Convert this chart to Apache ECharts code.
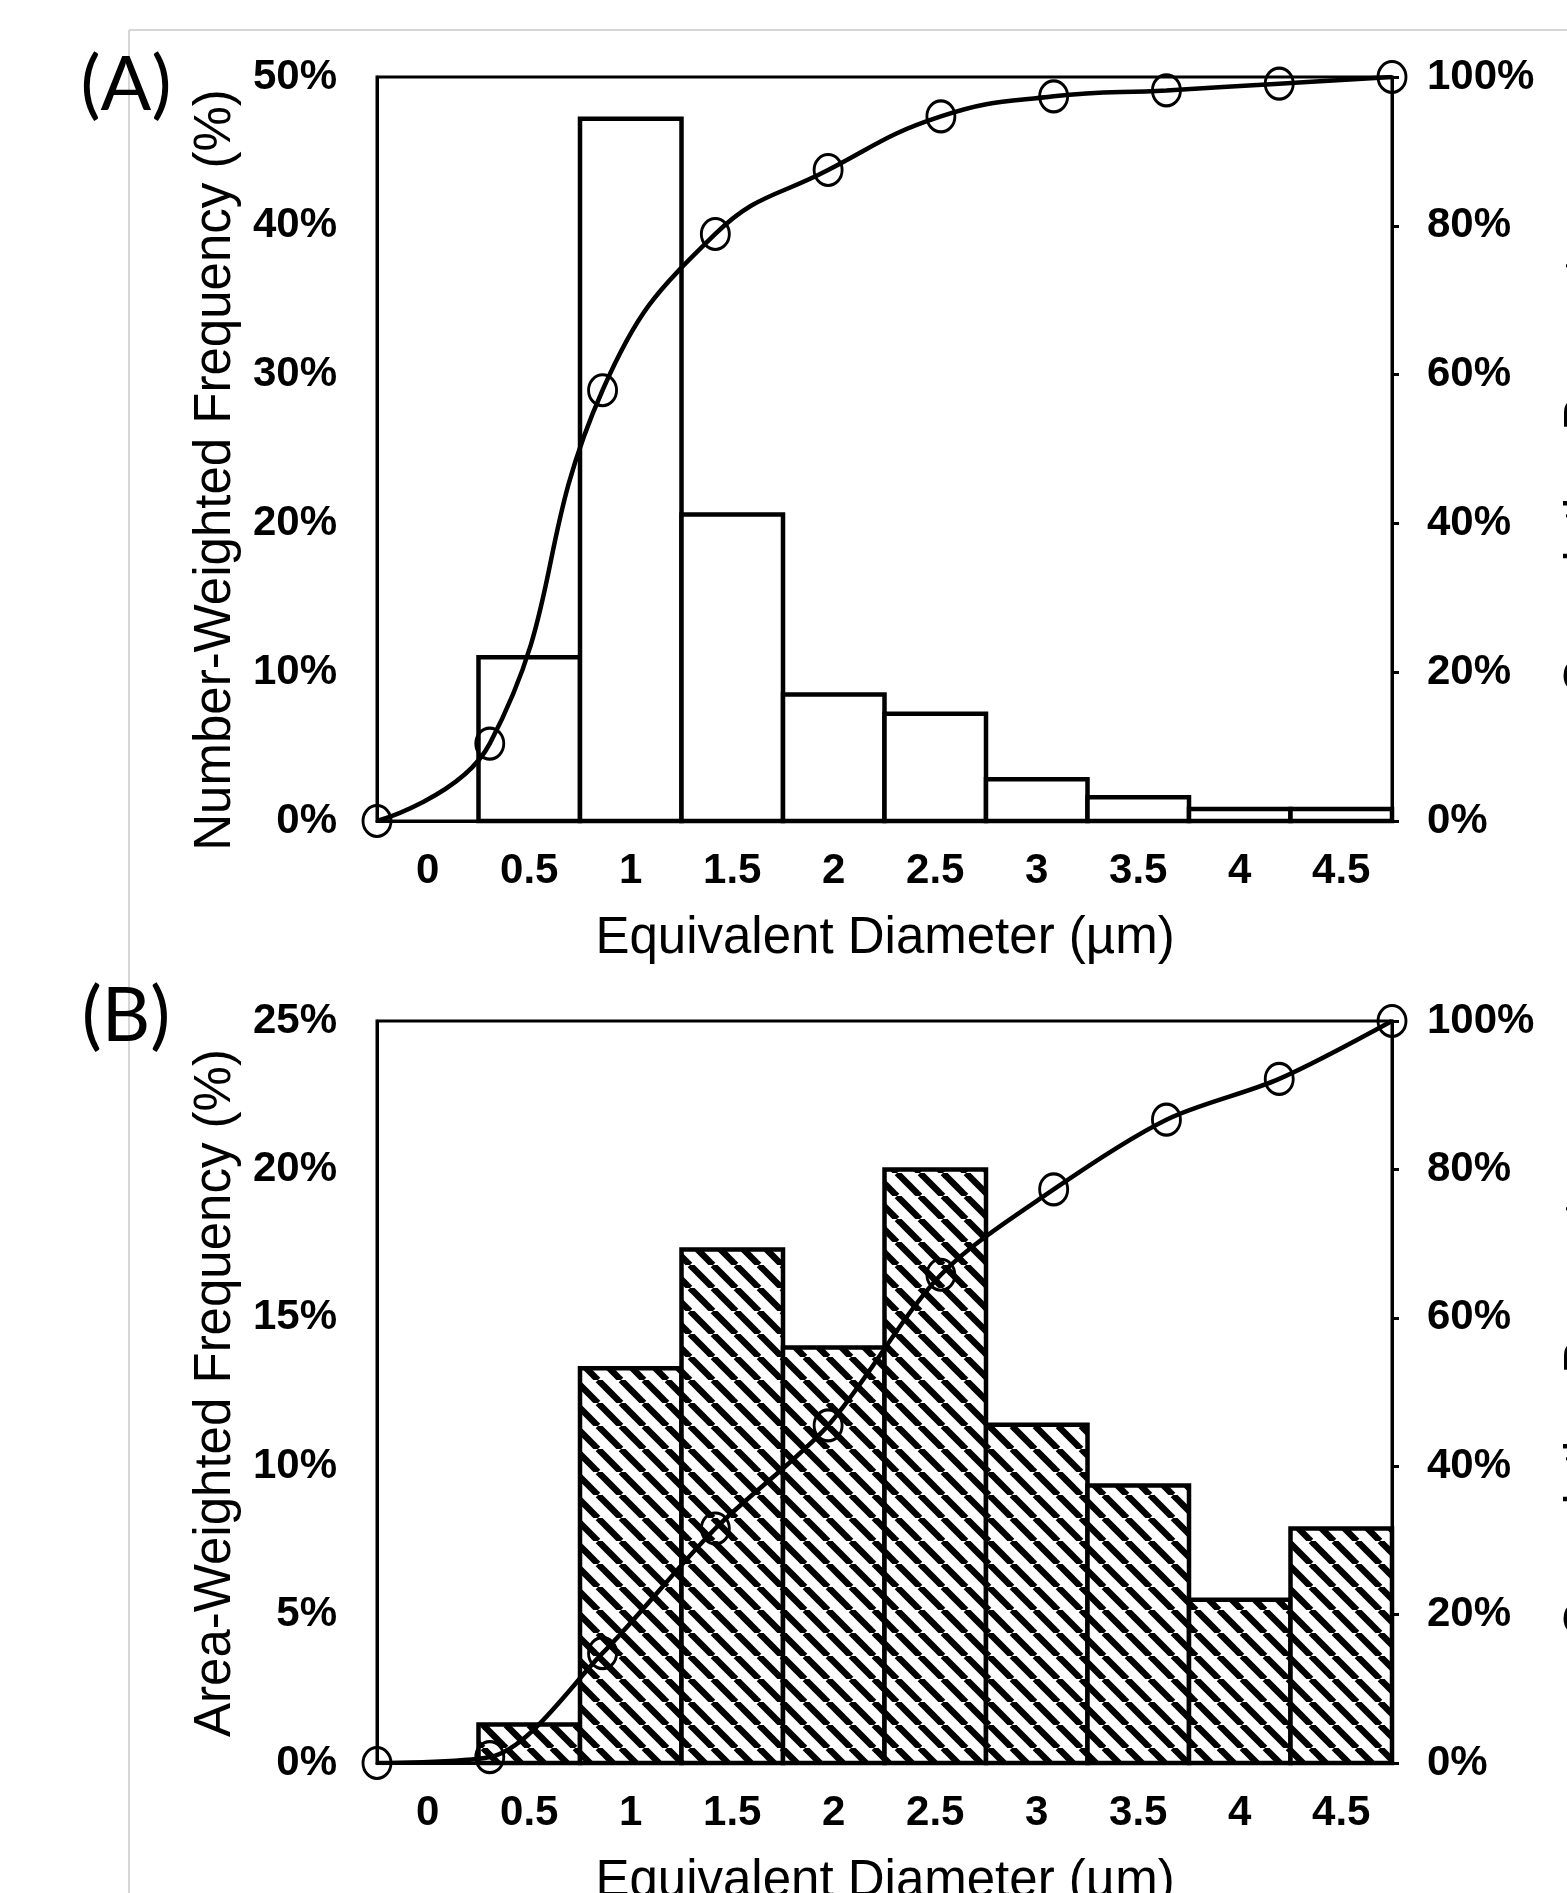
<!DOCTYPE html>
<html>
<head>
<meta charset="utf-8">
<script src="https://cdn.jsdelivr.net/npm/echarts@6/dist/echarts.min.js"></script>
<style>
html,body{margin:0;padding:0;background:#fff;overflow:hidden}
#c{width:1567px;height:1893px}
</style>
</head>
<body>
<div id="c"></div>
<script>
// ---------- data ----------
const categories   = ['0', '0.5', '1', '1.5', '2', '2.5', '3', '3.5', '4', '4.5'];
const cumPositions = ['e0', 'e1', 'e2', 'e3', 'e4', 'e5', 'e6', 'e7', 'e8', 'e9'];
const numberFreq   = [0, 11.0, 47.2, 20.6, 8.5, 7.2, 2.8, 1.6, 0.8, 0.8];
const numberCum    = [0, 10.4, 57.9, 78.9, 87.5, 94.7, 97.4, 98.2, 99.1, 100];
const areaFreq     = [0, 1.3, 13.3, 17.3, 14.0, 20.0, 11.4, 9.35, 5.5, 7.9];
const areaCum      = [0, 0.8, 14.8, 31.6, 45.5, 65.8, 77.3, 86.7, 92.2, 100];
const freqAxisA    = [0, 50, 10];   // min, max, interval
const freqAxisB    = [0, 25, 5];
const cumAxis      = [0, 100, 20];
const panelLabels  = ['(A)', '(B)'];
const yTitles      = ['Number-Weighted Frequency (%)', 'Area-Weighted Frequency (%)'];
const xTitle       = 'Equivalent Diameter (µm)';
const rightTitle   = 'Cumulative Percentage';

// ---------- styles ----------
const FONT = "'Liberation Sans', Arial, sans-serif";
const BLACK = '#000';

function hatchCanvas() {
  const s = 23;
  const c = document.createElement('canvas');
  c.width = s; c.height = s;
  const g = c.getContext('2d');
  g.fillStyle = '#fff'; g.fillRect(0, 0, s, s);
  g.strokeStyle = '#000'; g.lineWidth = 6.5;
  for (const o of [-s, 0, s]) {
    g.beginPath(); g.moveTo(o, 0); g.lineTo(o + s, s); g.stroke();
  }
  return c;
}

const grids = [
  { left: 377, top: 77, width: 1015, height: 744 },
  { left: 377, top: 1021, width: 1015, height: 742 }
];

const axisLabelStyle = { color: BLACK, fontSize: 42, fontWeight: 'bold', fontFamily: FONT };

function xAxes(gi) {
  return [
    { gridIndex: gi, type: 'category', data: categories, boundaryGap: true, position: 'bottom',
      axisLine: { show: true, lineStyle: { color: BLACK, width: 3 } },
      axisTick: { show: false },
      axisLabel: Object.assign({ interval: 0, margin: 29 }, axisLabelStyle),
      splitLine: { show: false } },
    { gridIndex: gi, type: 'category', data: cumPositions, boundaryGap: false, show: false }
  ];
}
function yAxes(gi, f) {
  return [
    { gridIndex: gi, type: 'value', position: 'left', min: f[0], max: f[1], interval: f[2],
      axisLine: { show: true, lineStyle: { color: BLACK, width: 3 } },
      axisTick: { show: false },
      axisLabel: Object.assign({ formatter: '{value}%', margin: 40 }, axisLabelStyle),
      splitLine: { show: false } },
    { gridIndex: gi, type: 'value', position: 'right', min: cumAxis[0], max: cumAxis[1], interval: cumAxis[2],
      axisLine: { show: true, lineStyle: { color: BLACK, width: 3 } },
      axisTick: { show: true, inside: false, length: 7, lineStyle: { color: BLACK, width: 3 } },
      axisLabel: Object.assign({ formatter: '{value}%', margin: 35 }, axisLabelStyle),
      splitLine: { show: false } }
  ];
}

// histogram bars: adjacent rectangles sharing edges, drawn through the axis scales
function histSeries(values, xi, yi, fill) {
  return {
    type: 'custom', xAxisIndex: xi, yAxisIndex: yi, z: 2,
    data: values.map((v, i) => [i, v]),
    encode: { x: 0, y: 1 },
    renderItem: function (params, api) {
      const i = api.value(0), v = api.value(1);
      if (!v) return null;
      const p0 = api.coord([i, 0]);
      const p1 = api.coord([i, v]);
      const w = api.size([1, 0])[0];
      return {
        type: 'rect',
        shape: { x: p0[0] - w / 2, y: p1[1], width: w, height: p0[1] - p1[1] },
        style: { fill: fill, stroke: BLACK, lineWidth: 4.5 }
      };
    }
  };
}

function lineSeries(data, xi, yi, smooth) {
  return {
    type: 'line', xAxisIndex: xi, yAxisIndex: yi, data: data, smooth: smooth,
    symbol: 'circle', symbolSize: [28, 31], showAllSymbol: true, z: 5,
    itemStyle: { color: 'rgba(0,0,0,0)', borderColor: BLACK, borderWidth: 3 },
    lineStyle: { color: BLACK, width: 4.5 },
    emphasis: { disabled: true }
  };
}

const titleFont = '51px ' + FONT;
const panelFont = "75px Lato, 'Open Sans', sans-serif";

const option = {
  animation: false,
  backgroundColor: '#fff',
  grid: grids.map(g => Object.assign({ show: true, borderColor: BLACK, borderWidth: 3,
    backgroundColor: 'rgba(0,0,0,0)', containLabel: false, outerBoundsMode: 'none' }, g)),
  xAxis: xAxes(0).concat(xAxes(1)),
  yAxis: yAxes(0, freqAxisA).concat(yAxes(1, freqAxisB)),
  series: [
    histSeries(numberFreq, 0, 0, '#fff'),
    lineSeries(numberCum, 1, 1, 0.45),
    histSeries(areaFreq, 2, 2, { image: hatchCanvas(), repeat: 'repeat' }),
    lineSeries(areaCum, 3, 3, 0.3)
  ],
  graphic: [
    // outer light frame
    { type: 'line', shape: { x1: 129, y1: 30, x2: 1567, y2: 30 }, style: { stroke: '#c8c8c8', lineWidth: 1.5 } },
    { type: 'line', shape: { x1: 129, y1: 30, x2: 129, y2: 1893 }, style: { stroke: '#c8c8c8', lineWidth: 1.5 } },
    // panel labels
    { type: 'text', x: 126, y: 86, style: { text: panelLabels[0], font: panelFont, fill: BLACK, align: 'center', verticalAlign: 'middle' } },
    { type: 'text', x: 126, y: 1017, style: { text: panelLabels[1], font: panelFont, fill: BLACK, align: 'center', verticalAlign: 'middle' } },
    // left axis titles
    { type: 'text', x: 216, y: 470, rotation: Math.PI / 2, style: { text: yTitles[0], font: titleFont, fill: BLACK, align: 'center', verticalAlign: 'middle' } },
    { type: 'text', x: 216, y: 1393, rotation: Math.PI / 2, style: { text: yTitles[1], font: titleFont, fill: BLACK, align: 'center', verticalAlign: 'middle' } },
    // bottom axis titles
    { type: 'text', x: 885, y: 939, style: { text: xTitle, font: titleFont, fill: BLACK, align: 'center', verticalAlign: 'middle' } },
    { type: 'text', x: 885, y: 1882, style: { text: xTitle, font: titleFont, fill: BLACK, align: 'center', verticalAlign: 'middle' } },
    // right axis titles (mostly cut off by the page edge)
    { type: 'text', x: 1585, y: 435, rotation: Math.PI / 2, style: { text: rightTitle, font: '50px ' + FONT, fill: BLACK, align: 'center', verticalAlign: 'middle' } },
    { type: 'text', x: 1585, y: 1378, rotation: Math.PI / 2, style: { text: rightTitle, font: '50px ' + FONT, fill: BLACK, align: 'center', verticalAlign: 'middle' } }
  ]
};

const chart = echarts.init(document.getElementById('c'), null, { renderer: 'canvas' });
chart.setOption(option);
</script>
</body>
</html>
